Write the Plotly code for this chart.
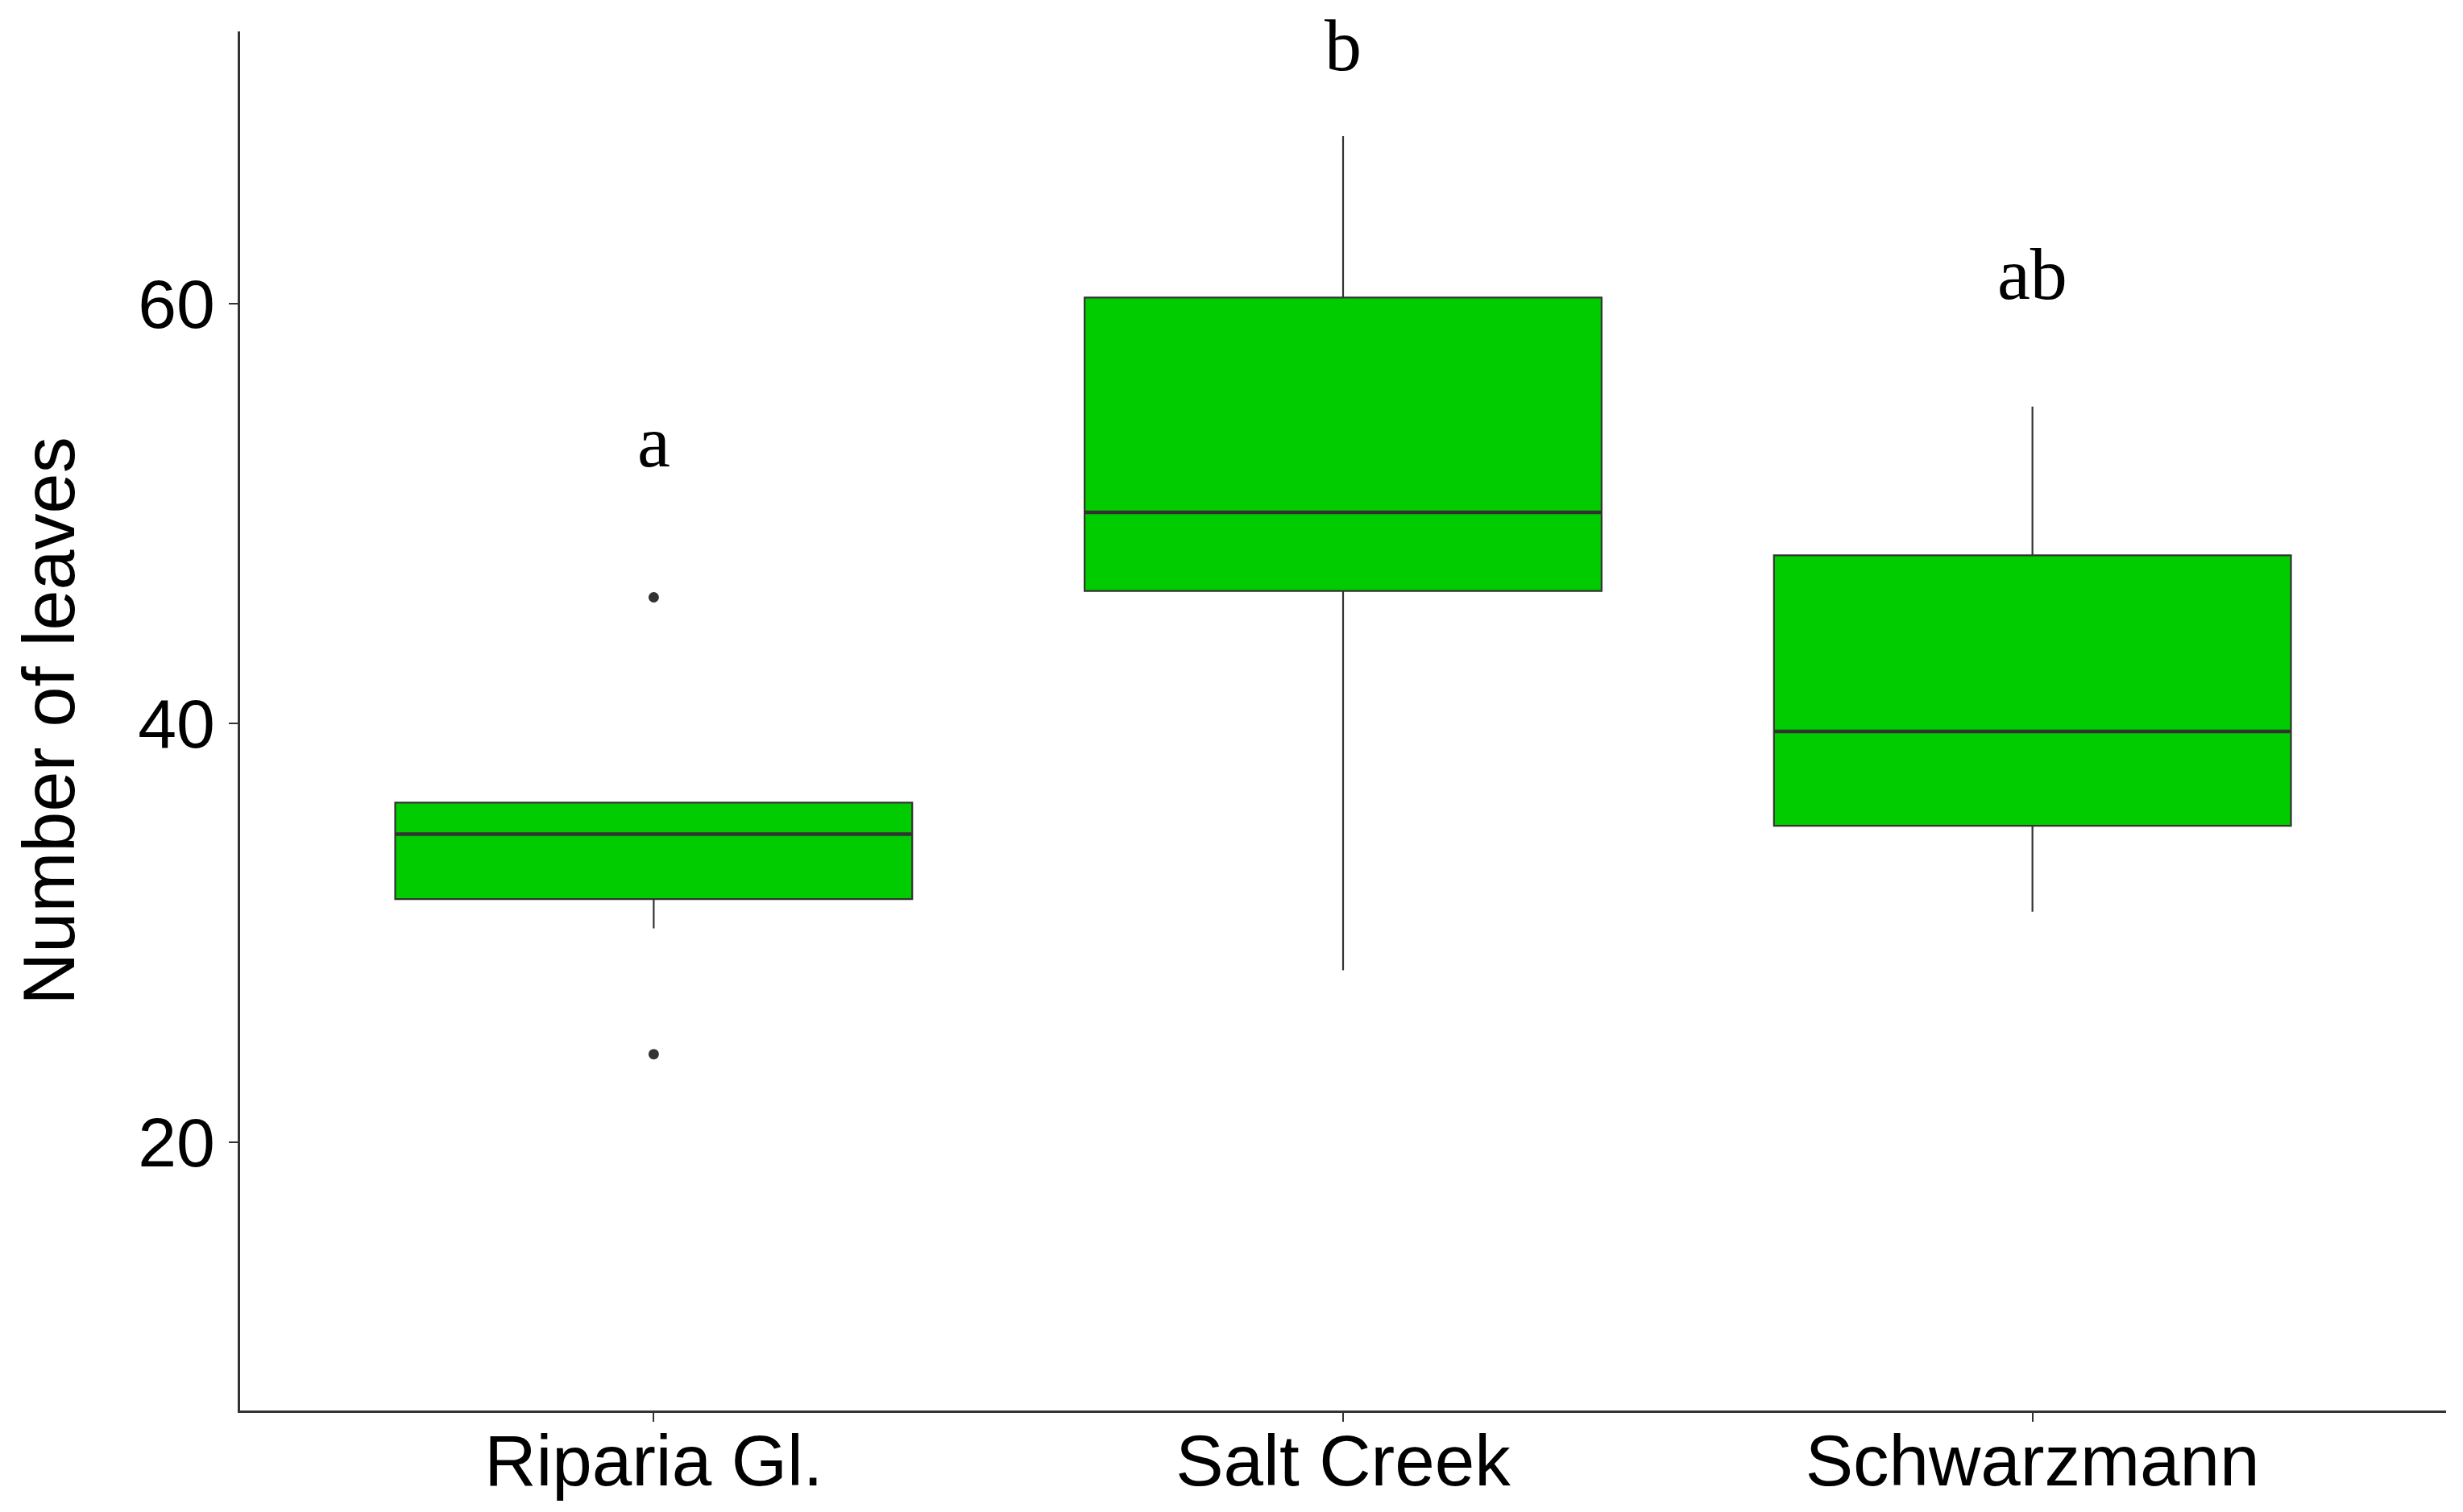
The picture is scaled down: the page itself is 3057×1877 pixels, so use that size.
import plotly.graph_objects as go

# data
sites = ["Riparia Gl.", "Salt Creek", "Schwarzmann"]
q1 = [31.6, 46.3, 35.1]
median = [34.7, 50.05, 39.6]
q3 = [36.2, 60.3, 48.0]
lower_whisker = [30.2, 28.2, 31.0]
upper_whisker = [36.2, 68.0, 55.1]

outlier_sites = ["Riparia Gl.", "Riparia Gl."]
outlier_values = [46.0, 24.2]

letters = ["a", "b", "ab"]
letter_y = [52.1, 71.0, 60.1]

y_ticks = [20, 40, 60]

box_width = 0.75

fig = go.Figure()

fig.add_trace(go.Box(
    x=sites, q1=q1, median=median, q3=q3,
    lowerfence=lower_whisker, upperfence=upper_whisker,
    fillcolor="#00CC00",
    line=dict(color="#333333", width=2.2),
    whiskerwidth=0,
    width=box_width,
    boxpoints=False,
    showlegend=False,
    hoverinfo="skip",
))

# thicker median bars like ggplot
for i, m in enumerate(median):
    fig.add_shape(type="line", xref="x", yref="y",
                  x0=i - box_width / 2, x1=i + box_width / 2, y0=m, y1=m,
                  line=dict(color="#333333", width=4.5))

fig.add_trace(go.Scatter(
    x=outlier_sites, y=outlier_values, mode="markers",
    marker=dict(color="#333333", size=13),
    showlegend=False, hoverinfo="skip",
))

for s, t, yv in zip(sites, letters, letter_y):
    fig.add_annotation(
        x=s, y=yv, xref="x", yref="y", text=t, showarrow=False,
        yanchor="bottom", xanchor="center", yshift=-18,
        font=dict(family="Liberation Serif, Times New Roman, serif", size=92, color="black"),
    )

# page body has an 8px margin, so margins are shifted by it
fig.update_layout(
    width=3057, height=1877,
    margin=dict(l=290, r=29, t=31, b=134),
    plot_bgcolor="white", paper_bgcolor="white",
    font=dict(family="Liberation Sans, Arial, sans-serif", color="black"),
)

fig.update_xaxes(
    type="category", categoryorder="array", categoryarray=sites,
    range=[-0.6, 2.6],
    showline=True, linecolor="#333333", linewidth=3,
    ticks="outside", ticklen=11, tickwidth=2, tickcolor="#333333",
    tickfont=dict(size=89, color="black"),
    ticklabelstandoff=-28,
    showgrid=False, zeroline=False, automargin=False,
)

fig.update_yaxes(
    range=[7.2, 73.0],
    tickvals=y_ticks,
    showline=True, linecolor="#333333", linewidth=3,
    ticks="outside", ticklen=11, tickwidth=2, tickcolor="#333333",
    tickfont=dict(size=86, color="black"),
    ticklabelstandoff=0,
    title=dict(text="Number of leaves", font=dict(size=90, color="black"), standoff=49),
    showgrid=False, zeroline=False, automargin=False,
)

fig.write_html("out.html")
